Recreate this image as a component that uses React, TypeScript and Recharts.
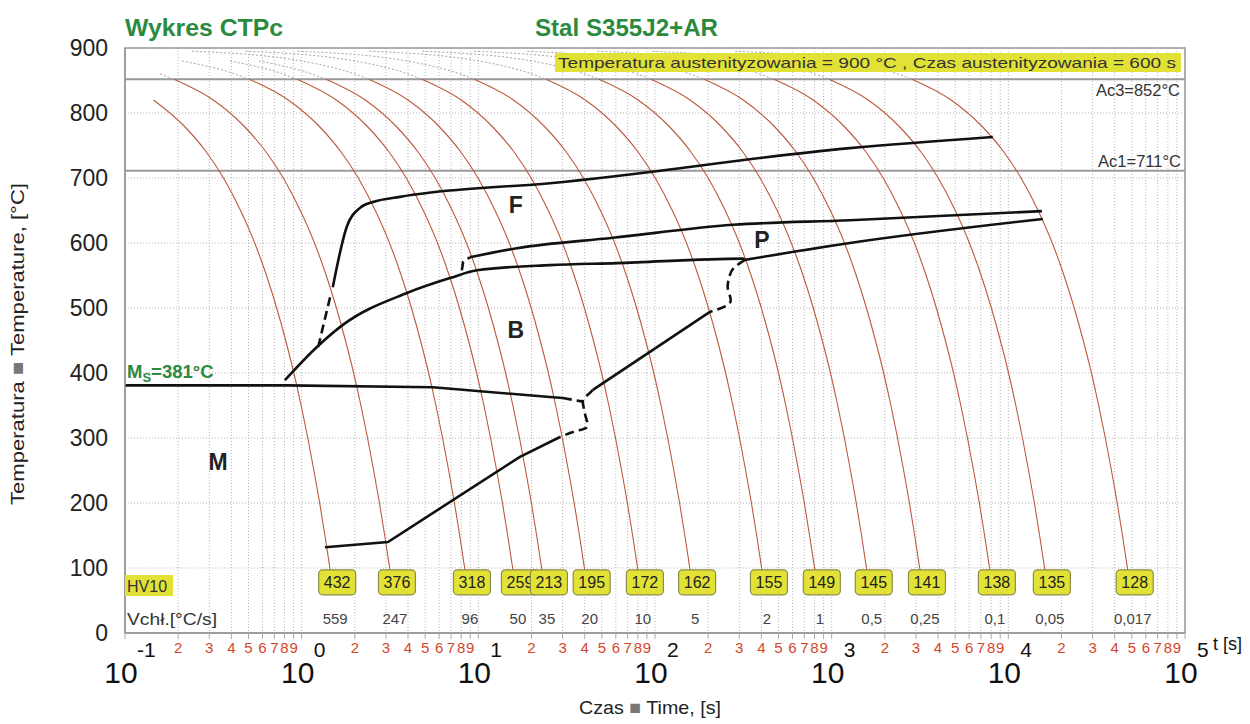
import React from 'react'
import {
  ComposedChart,
  Line,
  Scatter,
  XAxis,
  YAxis,
  CartesianGrid,
  ReferenceLine,
  ReferenceArea,
} from 'recharts'

// cooling curve shape: temperature vs share of its end time
const curveTemps = [895, 880, 860, 852, 820, 780, 740, 700, 650, 600, 550, 500, 450, 400, 350, 300, 250, 200, 150, 97]
const curveTimeShare = [0.006, 0.025, 0.05, 0.06, 0.1, 0.149, 0.199, 0.249, 0.311, 0.374, 0.436, 0.498, 0.56, 0.623, 0.685, 0.747, 0.809, 0.872, 0.934, 1]

// end time of each cooling curve [s], hardness and cooling rate under it
const curveEndTimes = [1.45, 3.16, 8.4, 15.7, 22.9, 40, 80, 158, 403, 803, 1580, 3160, 7860, 16100, 47400]
const hardness = [432, 376, 318, 259, 213, 195, 172, 162, 155, 149, 145, 141, 138, 135, 128]
const coolingRates = ['559', '247', '96', '50', '35', '20', '10', '5', '2', '1', '0,5', '0,25', '0,1', '0,05', '0,017']

// transformation lines [t s, T °C]
const ferriteStartDashed: [number, number][] = [[1.24, 440], [1.45, 517]]
const ferriteStart: [number, number][] = [[1.5, 532], [1.8, 625], [2.14, 654], [2.53, 663], [3.6, 671], [5.53, 678], [25.4, 692], [1268, 746], [8170, 763]]
const bainiteStart: [number, number][] = [[0.804, 389], [1.22, 440], [1.71, 474], [3.94, 523], [6.91, 546], [9.82, 558], [25.4, 566], [60.9, 569], [314, 576], [323, 574]]
const pearliteStartHook: [number, number][] = [[8.07, 558], [8.2, 571], [8.96, 578]]
const pearliteStart: [number, number][] = [[8.96, 578], [16.5, 592], [57.8, 608], [276, 628], [1268, 635], [15490, 649]]
const pearliteFinish: [number, number][] = [[323, 574], [1268, 600], [15670, 637]]
const upperBend: [number, number][] = [[323, 574], [283, 563], [265.5, 551], [258.8, 528], [265.5, 508], [204.5, 494]]
const bainiteFinishUpper: [number, number][] = [[204.5, 494], [44.5, 374]]
const lowerBend: [number, number][] = [[44.5, 374], [41.5, 366], [39.1, 358], [39.6, 345], [40.6, 332], [41.2, 317], [36, 311], [29, 301.5]]
const bainiteFinishLower: [number, number][] = [[1.355, 132], [3.08, 140], [17.2, 271], [29, 301.5]]
const msLine: [number, number][] = [[0.1, 381], [0.826, 381], [5.53, 378], [25.4, 363], [30.1, 361.5]]
const msLineDashed: [number, number][] = [[30.1, 361.5], [39.1, 356]]

const regionNames = ['F', 'P', 'B', 'M']
const regionTimes = [16.3, 403, 16.3, 0.336]
const regionTemps = [658, 605, 466, 263]

const tempTicks = [0, 100, 200, 300, 400, 500, 600, 700, 800, 900]
const decadeExponents = [-1, 0, 1, 2, 3, 4, 5]
const minorDigits = [2, 3, 4, 5, 6, 7, 8, 9]

const timeTicks = decadeExponents.flatMap((e) => {
  const major = { value: Math.pow(10, e), label: String(e), major: true }
  if (e === 5) return [major]
  return [major, ...minorDigits.map((d) => ({ value: d * Math.pow(10, e), label: String(d), major: false }))]
})

const toPoints = (pairs: [number, number][]) => pairs.map(([t, T]) => ({ t, T }))

const coolingCurves = curveEndTimes.map((end) => {
  const pts = curveTemps
    .map((T, i) => ({ t: end * curveTimeShare[i], T }))
    .filter((p) => p.t >= 0.14)
  return {
    upper: pts.filter((p) => p.T >= 852),
    lower: pts.filter((p) => p.T <= 852),
  }
})

const hardnessPoints = curveEndTimes.map((t, i) => ({ t, T: 78, hv: hardness[i], rate: coolingRates[i] }))
const regionPoints = regionNames.map((name, i) => ({ t: regionTimes[i], T: regionTemps[i], name }))
const msPoint = [{ t: 0.1, T: 381 }]

const GREEN = '#2b8a3e'
const YELLOW = '#e2e236'

const renderTimeTick = (props: any) => {
  const { x, y, payload } = props
  const tick = timeTicks.find((k) => Math.abs(Math.log10(k.value) - Math.log10(payload.value)) < 1e-6)
  if (!tick) return <g />
  if (tick.major) {
    return (
      <g>
        <text x={x - 4} y={y + 42} textAnchor="middle" fontSize={30} fill="#111">10</text>
        <text x={x + 12} y={y + 16} fontSize={21} fill="#111">{tick.label}</text>
      </g>
    )
  }
  return (
    <text x={x} y={y + 12} textAnchor="middle" fontSize={15} fill="#d4462b">{tick.label}</text>
  )
}

const renderHardness = (p: any) => {
  const { cx, cy, payload } = p
  const bx = cx + 7
  return (
    <g>
      <rect x={bx - 18.5} y={cy - 12.5} width={37} height={25} rx={4} fill={YELLOW} stroke="#8c8c4a" strokeWidth={1.2} />
      <text x={bx} y={cy + 6} textAnchor="middle" fontSize={16} fill="#222">{payload.hv}</text>
      <text x={cx + 5} y={cy + 42} textAnchor="middle" fontSize={15} fill="#444">{payload.rate}</text>
    </g>
  )
}

const renderRegion = (p: any) => (
  <text x={p.cx} y={p.cy + 8} textAnchor="middle" fontSize={23} fontWeight="bold" fill="#222">
    {p.payload.name}
  </text>
)

const renderMs = (p: any) => (
  <text x={p.cx + 2} y={p.cy - 7} fontSize={18.5} fontWeight="bold" fill={GREEN}>
    M<tspan dy={4} fontSize={13}>S</tspan>
    <tspan dy={-4}>=381°C</tspan>
  </text>
)

const blackLine = (pairs: [number, number][], key: string, dashed = false, type: any = 'monotone') => (
  <Line
    key={key}
    data={toPoints(pairs)}
    dataKey="T"
    type={type}
    stroke="#111"
    strokeWidth={2.6}
    strokeDasharray={dashed ? '9 5' : undefined}
    dot={false}
    activeDot={false}
    isAnimationActive={false}
    legendType="none"
  />
)

export default function App() {
  return (
    <div
      style={{
        position: 'absolute',
        left: 0,
        top: 0,
        width: 1250,
        height: 724,
        background: '#fff',
        fontFamily: '"Liberation Sans", Arial, sans-serif',
      }}
    >
      <ComposedChart width={1250} height={724} margin={{ top: 48, right: 65, bottom: 0, left: 0 }}>
        <CartesianGrid stroke="#b5b5b5" strokeDasharray="1 2" />
        <XAxis
          dataKey="t"
          type="number"
          scale="log"
          domain={[0.1, 100000]}
          allowDataOverflow
          ticks={timeTicks.map((k) => k.value)}
          interval={0}
          height={91}
          tick={renderTimeTick}
          tickLine={{ stroke: '#aaa' }}
          axisLine={{ stroke: '#999', strokeWidth: 1.5 }}
        />
        <YAxis
          type="number"
          domain={[0, 900]}
          allowDataOverflow
          ticks={tempTicks}
          width={125}
          tickLine={false}
          tickMargin={11}
          axisLine={{ stroke: '#999', strokeWidth: 1.5 }}
          tick={{ fontSize: 23, fill: '#222' }}
        />
        <ReferenceArea x1={0.1} x2={100000} y1={0} y2={900} fill="none" stroke="#999" strokeWidth={1.5} />
        <ReferenceLine
          y={852}
          stroke="#9a9a9a"
          strokeWidth={2}
          label={{ value: 'Ac3=852°C', position: 'insideTopRight', offset: 5, fontSize: 16.5, fill: '#333' }}
        />
        <ReferenceLine
          y={711}
          stroke="#9a9a9a"
          strokeWidth={2}
          label={{ value: 'Ac1=711°C', position: 'insideBottomRight', offset: 4, fontSize: 16.5, fill: '#333' }}
        />

        {coolingCurves.map((c, i) => (
          <Line
            key={'up' + i}
            data={c.upper}
            dataKey="T"
            type="monotone"
            stroke="#a5a5a5"
            strokeWidth={1}
            strokeDasharray="2 2"
            dot={false}
            activeDot={false}
            isAnimationActive={false}
            legendType="none"
          />
        ))}
        {coolingCurves.map((c, i) => (
          <Line
            key={'low' + i}
            data={c.lower}
            dataKey="T"
            type="monotone"
            stroke="#bb5a3e"
            strokeWidth={1.1}
            dot={false}
            activeDot={false}
            isAnimationActive={false}
            legendType="none"
          />
        ))}

        {blackLine(ferriteStartDashed, 'fsd', true, 'linear')}
        {blackLine(ferriteStart, 'fs')}
        {blackLine(bainiteStart, 'bs')}
        {blackLine(pearliteStartHook, 'psh', true, 'linear')}
        {blackLine(pearliteStart, 'ps')}
        {blackLine(pearliteFinish, 'pf')}
        {blackLine(upperBend, 'ub', true, 'natural')}
        {blackLine(bainiteFinishUpper, 'bfu', false, 'linear')}
        {blackLine(lowerBend, 'lb', true, 'natural')}
        {blackLine(bainiteFinishLower, 'bfl', false, 'linear')}
        {blackLine(msLine, 'ms', false, 'linear')}
        {blackLine(msLineDashed, 'msd', true, 'linear')}

        <Scatter data={hardnessPoints} dataKey="T" shape={renderHardness} isAnimationActive={false} legendType="none" />
        <Scatter data={regionPoints} dataKey="T" shape={renderRegion} isAnimationActive={false} legendType="none" />
        <Scatter data={msPoint} dataKey="T" shape={renderMs} isAnimationActive={false} legendType="none" />
      </ComposedChart>

      <svg width={1250} height={724} style={{ position: 'absolute', left: 0, top: 0, pointerEvents: 'none' }}>
        <text x={125} y={36} fontSize={24} fontWeight="bold" fill={GREEN} textLength={158} lengthAdjust="spacingAndGlyphs">
          Wykres CTPc
        </text>
        <text x={535} y={36} fontSize={24} fontWeight="bold" fill={GREEN} textLength={183} lengthAdjust="spacingAndGlyphs">
          Stal S355J2+AR
        </text>
        <rect x={555} y={53} width={626} height={19} fill={YELLOW} />
        <text x={558} y={68} fontSize={15} fill="#333" textLength={618} lengthAdjust="spacingAndGlyphs">
          Temperatura austenityzowania = 900 °C , Czas austenityzowania = 600 s
        </text>
        <rect x={125} y={575} width={48} height={21} fill={YELLOW} />
        <text x={127} y={592} fontSize={16} fill="#333">HV10</text>
        <text x={127} y={625} fontSize={17} fill="#333" textLength={90} lengthAdjust="spacingAndGlyphs">
          Vchł.[°C/s]
        </text>
        <text x={1213} y={650} fontSize={18} fill="#111">t [s]</text>
        <text x={650} y={714} textAnchor="middle" fontSize={19} fill="#222" textLength={142} lengthAdjust="spacingAndGlyphs">
          Czas <tspan fill="#777">■</tspan> Time, [s]
        </text>
        <text x={24} y={344} textAnchor="middle" fontSize={19} fill="#222" transform="rotate(-90 24 344)" textLength={322} lengthAdjust="spacingAndGlyphs">
          Temperatura <tspan fill="#777">■</tspan> Temperature, [°C]
        </text>
      </svg>
    </div>
  )
}
